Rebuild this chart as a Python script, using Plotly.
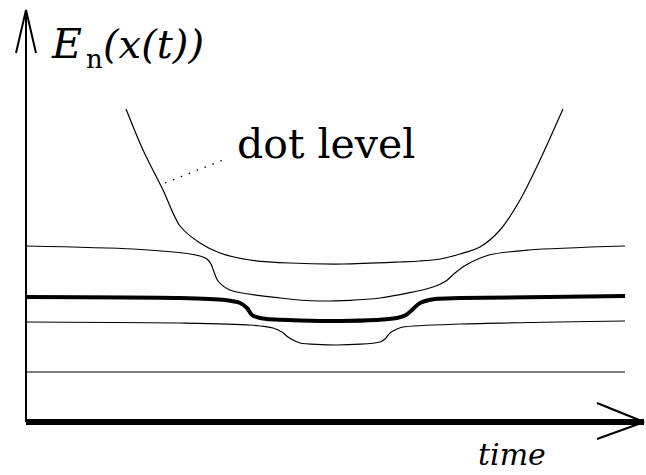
import plotly.graph_objects as go

# ---- data (time, energy) ----
dot_t = [100, 117, 137, 154, 174, 194, 224, 264, 317, 374, 394, 414, 434, 454, 474, 494, 514, 537]
dot_E = [313, 272, 232, 196, 179, 169, 162, 159, 158, 160, 161, 163, 168, 175, 192, 222, 262, 313]

lvl1_t = [0, 107, 157, 174, 181, 185, 188, 192, 204, 254, 294, 354, 407, 420, 429, 440, 463, 503, 599]
lvl1_E = [176, 173, 169, 166, 163, 158, 150, 141, 132, 124, 121, 124, 135, 141, 149, 157, 167, 172, 176]

lvl2_t = [0, 154, 199, 214, 221, 226, 234, 241, 314, 371, 380, 387, 394, 409, 434, 599]
lvl2_E = [125, 124, 122, 119, 114, 107, 104, 103, 101, 104, 107, 113, 119, 123, 124, 126]

lvl3_t = [0, 154, 224, 247, 256, 262, 269, 274, 311, 354, 359, 364, 371, 377, 434, 599]
lvl3_E = [100, 99, 97, 94, 90, 85, 81, 79, 77, 80, 83, 89, 93, 95, 98, 101]

lvl4_t = [0, 599]
lvl4_E = [50, 50]

pointer_t = [139, 197]
pointer_E = [239, 262]

# axis arrows (frame of the sketch)
yaxis_t = [0, 0]
yaxis_E = [0, 412]
yhead_t = [-10, 0, 10]
yhead_E = [369, 412, 369]
xaxis_t = [0, 618]
xaxis_E = [0, 0]
xhead_t = [571, 618, 571]
xhead_E = [19, 0, -17]

W, H = 646, 475
XR = [-26, 620]
YR = [-53, 422]

fig = go.Figure()

def line(x, y, w, dash="solid", shape="spline"):
    fig.add_trace(go.Scatter(x=x, y=y, mode="lines",
                             line=dict(color="black", width=w, dash=dash,
                                       shape=shape, smoothing=0.8),
                             hoverinfo="skip", showlegend=False))

line(dot_t, dot_E, 1.2)
line(lvl1_t, lvl1_E, 1.2)
line(lvl2_t, lvl2_E, 4)
line(lvl3_t, lvl3_E, 1.2)
line(lvl4_t, lvl4_E, 1.2, shape="linear")
line(pointer_t, pointer_E, 1.3, dash="1.5px,7px", shape="linear")
line(yaxis_t, yaxis_E, 2, shape="linear")
line(yhead_t, yhead_E, 2, shape="linear")
line(xaxis_t, xaxis_E, 6, shape="linear")
line(xhead_t, xhead_E, 2.2, shape="linear")

def px(x):
    return x + XR[0]

def py(y):
    return YR[1] - y

DJ = "DejaVu Serif"

def label(text, x, y, size, fam, anchor="middle"):
    fig.add_annotation(x=px(x), y=py(y), xref="x", yref="y", text=text,
                       showarrow=False, xanchor="left", yanchor=anchor,
                       font=dict(size=size, color="black", family=fam))

label("<i>E</i>", 49, 44, 41, DJ)
label("n", 84, 59, 26, DJ)
label("<i>(x(t))</i>", 101, 44, 40, DJ)
label("dot level", 235, 144, 41, DJ)
label("<i>time</i>", 476, 474, 30, DJ, anchor="bottom")

fig.update_layout(
    width=W, height=H,
    margin=dict(l=0, r=0, t=0, b=0),
    paper_bgcolor="white", plot_bgcolor="white",
    xaxis=dict(range=XR, visible=False, fixedrange=True),
    yaxis=dict(range=YR, visible=False, fixedrange=True),
    showlegend=False,
)

fig.write_html("out.html", config={"displayModeBar": False})
